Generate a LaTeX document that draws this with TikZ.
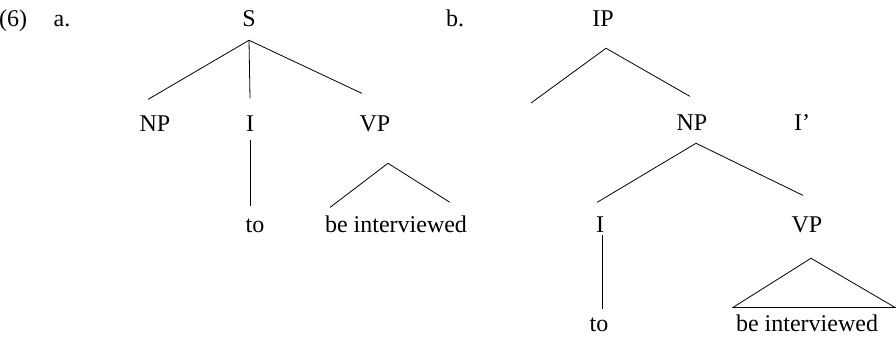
\documentclass[tikz,border=0pt]{standalone}
\usepackage{fontspec}
\setmainfont{Liberation Serif}
\usetikzlibrary{calc}
\tikzset{
  cat/.style={anchor=base, inner sep=0pt, text height=11.5pt, text depth=0pt},
  branch/.style={line width=0.6pt},
}
\begin{document}
\begin{tikzpicture}[x=0.75pt,y=0.75pt,font=\fontsize{18}{21}\selectfont]
\useasboundingbox (0,0) rectangle (896,-336);

% tree a
\begin{scope}
\node[cat] (ex) at (13,-26) {(6)};
\node[cat] (la) at (62,-26) {a.};
\node[cat] (S) at (249,-26) {S};
\node[cat] (NPa) at (155,-131) {NP};
\node[cat] (Ia) at (250,-131) {I};
\node[cat] (VPa) at (375,-131) {VP};
\node[cat] (toa) at (255,-232) {to};
\node[cat] (bia) at (396,-232) {be interviewed};

\coordinate (Stop) at ($(S.south)+(0,-14)$);
\draw[branch] (Stop) -- ($(NPa.north)+(-7,16)$);
\draw[branch] (Stop) -- ($(Ia.north)+(0,17)$);
\draw[branch] (Stop) -- ($(VPa.north)+(-13,22)$);
\draw[branch] ($(Ia.south)+(0,-9)$) -- ($(Ia.south |- toa.north)+(0,10)$);
\coordinate (VPatop) at ($(VPa.south)+(13,-32)$);
\draw[branch] ($(bia.north)+(-66,9)$) -- (VPatop) -- ($(bia.north)+(54,14)$);
\end{scope}

% tree b
\begin{scope}
\node[cat] (lb) at (455,-26) {b.};
\node[cat] (IP) at (603,-26) {IP};
\node[cat] (NPb) at (692,-130) {NP};
\node[cat] (Ibar) at (802,-130) {I'};
\node[cat] (Ib) at (600,-232) {I};
\node[cat] (VPb) at (807,-232) {VP};
\node[cat] (tob) at (599,-331) {to};
\node[cat] (bib) at (807,-331) {be interviewed};
\coordinate (IPleft) at (531,-103);

\coordinate (IPtop) at ($(IP.south)+(3,-22)$);
\draw[branch] (IPleft) -- (IPtop) -- ($(NPb.north)+(-2,18)$);
\coordinate (NPbtop) at ($(NPb.south)+(4,-13)$);
\draw[branch] ($(Ib.north)+(-3,14)$) -- (NPbtop) -- ($(VPb.north)+(-4,21)$);
\draw[branch] ($(Ib.south)+(2,-3)$) -- ($(Ib.south |- tob.north)+(2,6)$);
\coordinate (VPbtop) at ($(VPb.south)+(4,-26)$);
\draw[branch] (VPbtop) -- ($(bib.north)+(-74,8)$) -- ($(bib.north)+(88,8)$) -- cycle;
\end{scope}
\end{tikzpicture}
\end{document}
